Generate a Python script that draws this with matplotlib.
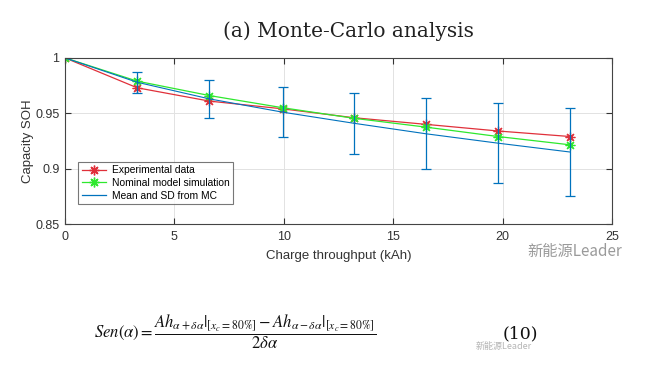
import numpy as np
import matplotlib
matplotlib.use('Agg')
import matplotlib.pyplot as plt
from matplotlib.lines import Line2D

# data
throughput = [0, 3.3, 6.6, 9.95, 13.2, 16.5, 19.8, 23.1]
soh_exp = [1.0, 0.973, 0.961, 0.954, 0.946, 0.940, 0.934, 0.929]
soh_nominal = [1.0, 0.979, 0.966, 0.955, 0.9455, 0.9375, 0.929, 0.9215]
soh_mc_mean = [1.0, 0.978, 0.963, 0.951, 0.941, 0.9315, 0.923, 0.915]
soh_mc_sd = [0.0, 0.0095, 0.017, 0.0225, 0.0277, 0.032, 0.036, 0.040]

xticks = [0, 5, 10, 15, 20, 25]
yticks = [0.85, 0.9, 0.95, 1.0]
ytick_labels = ['0.85', '0.9', '0.95', '1']

plt.rcParams['font.family'] = ['Liberation Sans', 'DejaVu Sans']
plt.rcParams['mathtext.fontset'] = 'stix'

red = '#e0303a'
green = '#2ee82e'
blue = '#0072bd'
star = (8, 2, 0)  # matlab style asterisk

fig = plt.figure(figsize=(6.59, 3.71), dpi=100)
ax = fig.add_axes([0.0986, 0.396, 0.830, 0.448])

ax.plot(throughput, soh_exp, color=red, marker=star, markersize=7, lw=0.9, mew=0.9)
ax.plot(throughput, soh_nominal, color=green, marker=star, markersize=7, lw=0.9, mew=0.9)
ax.errorbar(throughput, soh_mc_mean, yerr=soh_mc_sd, color=blue, lw=0.8,
            elinewidth=0.9, capsize=3.5, capthick=0.9)

ax.set_xlim(0, 25)
ax.set_ylim(0.85, 1.0)
ax.set_xticks(xticks)
ax.set_yticks(yticks)
ax.set_yticklabels(ytick_labels)
ax.tick_params(direction='in', top=True, right=True, labelsize=9, length=4,
               colors='#333333')
ax.tick_params(axis='x', pad=5)
ax.tick_params(axis='y', pad=4)
ax.grid(True, color='#e2e2e2', lw=0.7)
for s in ax.spines.values():
    s.set_color('#444444')
    s.set_linewidth(0.8)

ax.set_xlabel('Charge throughput (kAh)', fontsize=9.5, color='#333333', labelpad=5)
ax.set_ylabel('Capacity SOH', fontsize=9.5, color='#333333', labelpad=1)

handles = [Line2D([], [], color=red, marker=star, markersize=7, lw=0.9),
           Line2D([], [], color=green, marker=star, markersize=7, lw=0.9),
           Line2D([], [], color=blue, lw=0.9)]
labels = ['Experimental data', 'Nominal model simulation', 'Mean and SD from MC']
leg = ax.legend(handles, labels, loc='lower left', bbox_to_anchor=(0.024, 0.12),
                fontsize=7.4, frameon=True, fancybox=False, borderpad=0.35,
                labelspacing=0.25, handlelength=2.4, handletextpad=0.5, borderaxespad=0)
leg.get_frame().set_edgecolor('#555555')
leg.get_frame().set_linewidth(0.8)

fig.text(0.528, 0.915, '(a) Monte-Carlo analysis', ha='center', va='center',
         fontsize=14.5, family='DejaVu Serif', color='#222222')

# watermarks
fig.text(0.8, 0.322, '新能源Leader', ha='left', va='center', fontsize=11,
         family=['Noto Sans CJK SC', 'DejaVu Sans'], color='#9a9a9a')
fig.text(0.722, 0.066, '新能源Leader', ha='left', va='center', fontsize=6.5,
         family=['Noto Sans CJK SC', 'DejaVu Sans'], color='#b5b5b5')

# equation below the chart
fig.text(0.143, 0.105,
         r'$Sen(\alpha) = \dfrac{Ah_{\alpha+\delta\alpha}|_{[x_c=80\%]} - Ah_{\alpha-\delta\alpha}|_{[x_c=80\%]}}{2\delta\alpha}$',
         ha='left', va='center', fontsize=12, color='#111111')
fig.text(0.79, 0.1, '(10)', ha='center', va='center', fontsize=12.5,
         family='DejaVu Serif', color='#111111')

fig.savefig('out.png', dpi=100)
